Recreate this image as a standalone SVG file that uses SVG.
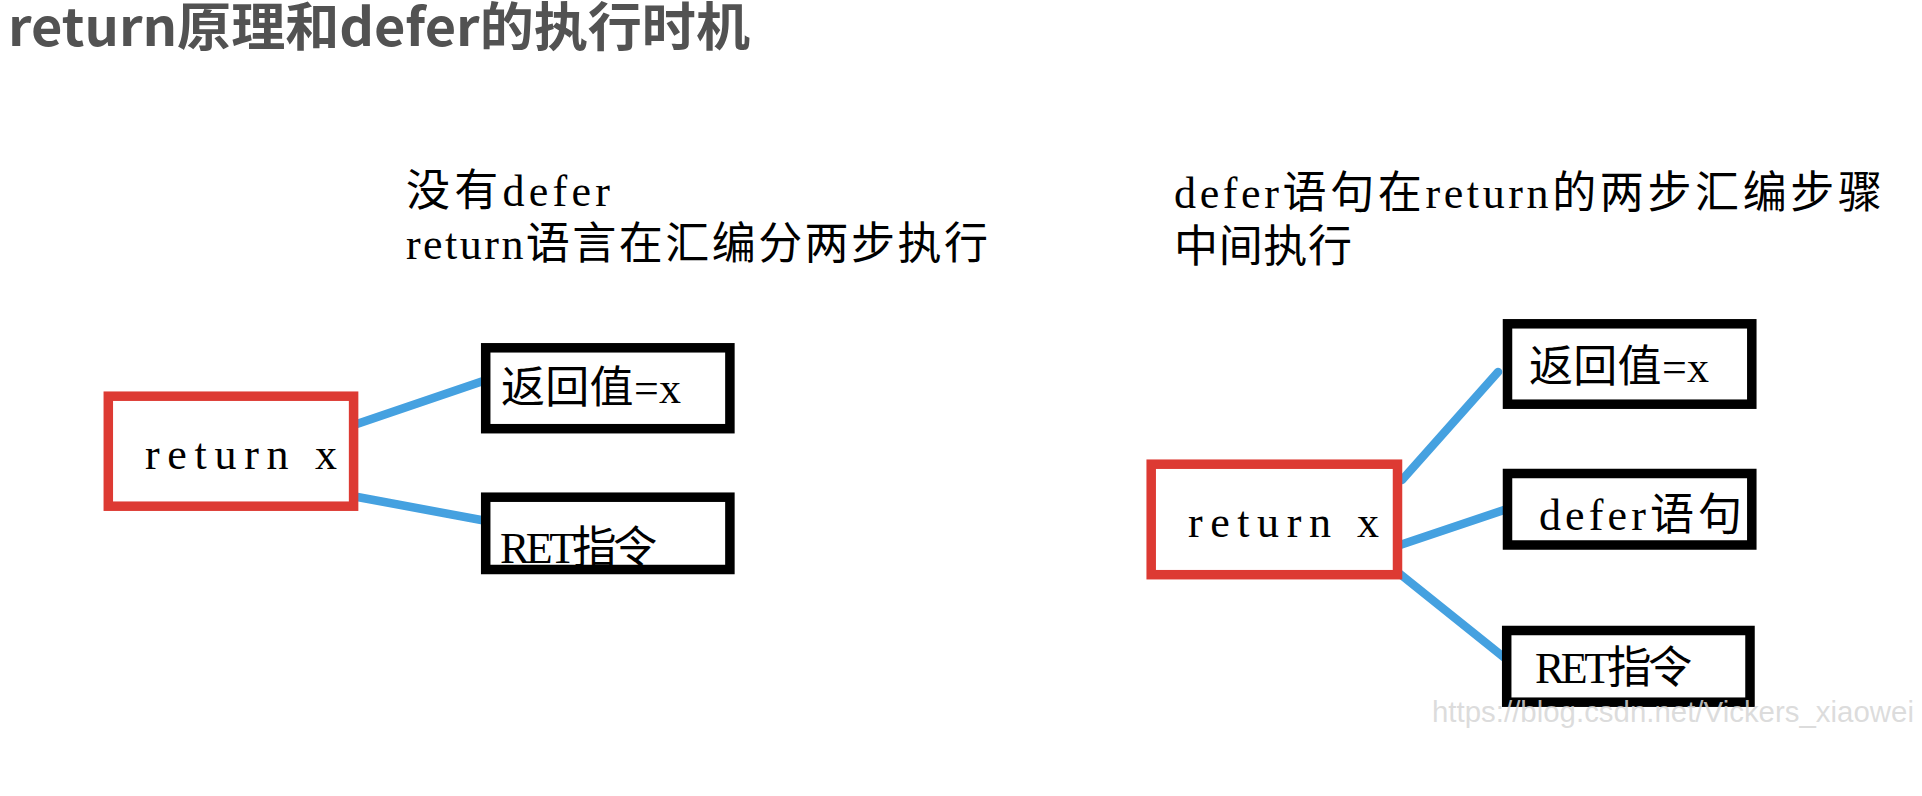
<svg xmlns="http://www.w3.org/2000/svg" width="1922" height="796" viewBox="0 0 1922 796">
  <style>
    .title { font-family: "Noto Sans CJK SC", "Liberation Sans", sans-serif; font-size: 52px; font-weight: bold; fill: #525252; }
    .cap { font-family: "Liberation Serif", "Noto Sans CJK SC", serif; font-size: 44px; fill: #000; }
    .lbl { font-family: "Liberation Serif", "Noto Sans CJK SC", serif; font-size: 44px; fill: #000; }
    .red { fill: #fff; stroke: #dd3a33; stroke-width: 9.5; }
    .blk { fill: #fff; stroke: #000; stroke-width: 9.5; }
    .conn { stroke: #45a1e0; stroke-width: 8.5; stroke-linecap: round; fill: none; }
    .wm { font-family: "Liberation Sans", Arial, sans-serif; font-size: 29.5px; fill: #d6d6d6; fill-opacity: 0.85; }
  </style>
  <rect x="0" y="0" width="1922" height="796" fill="#fff"/>

  <text class="title" x="8" y="46" textLength="742" lengthAdjust="spacingAndGlyphs">return原理和defer的执行时机</text>

  <g id="caption-left">
    <text class="cap" x="406" y="206" textLength="204" lengthAdjust="spacing">没有defer</text>
    <text class="cap" x="406" y="259" textLength="582" lengthAdjust="spacing">return语言在汇编分两步执行</text>
  </g>
  <g id="caption-right">
    <text class="cap" x="1174" y="208" textLength="708" lengthAdjust="spacing">defer语句在return的两步汇编步骤</text>
    <text class="cap" x="1174" y="262" textLength="178" lengthAdjust="spacing">中间执行</text>
  </g>

  <g id="connectors">
    <line class="conn" x1="348" y1="427" x2="495" y2="377"/>
    <line class="conn" x1="352" y1="496" x2="492" y2="522"/>
    <line class="conn" x1="1402" y1="480" x2="1498" y2="372"/>
    <line class="conn" x1="1397" y1="546" x2="1513" y2="507"/>
    <line class="conn" x1="1395" y1="570" x2="1506" y2="659"/>
  </g>

  <g id="left-return">
    <rect class="red" x="108.3" y="396.2" width="245.3" height="110"/>
    <text class="lbl" x="145" y="469" textLength="192" lengthAdjust="spacing">return x</text>
  </g>
  <g id="left-retval">
    <rect class="blk" x="485.7" y="347.8" width="244.2" height="80.9"/>
    <text class="lbl" x="501" y="403" textLength="180" lengthAdjust="spacing">返回值=x</text>
  </g>
  <g id="left-ret">
    <rect class="blk" x="485.7" y="497.2" width="244.2" height="72.3"/>
    <text class="lbl" x="500" y="563" textLength="157" lengthAdjust="spacing">RET指令</text>
  </g>

  <g id="right-return">
    <rect class="red" x="1151.2" y="464.2" width="246.3" height="110.5"/>
    <text class="lbl" x="1188" y="537" textLength="191" lengthAdjust="spacing">return x</text>
  </g>
  <g id="right-retval">
    <rect class="blk" x="1507.5" y="323.8" width="244.3" height="80.4"/>
    <text class="lbl" x="1529" y="382" textLength="180" lengthAdjust="spacing">返回值=x</text>
  </g>
  <g id="right-defer">
    <rect class="blk" x="1507.5" y="473.5" width="244.3" height="71.5"/>
    <text class="lbl" x="1539" y="530" textLength="203" lengthAdjust="spacing">defer语句</text>
  </g>
  <g id="right-ret">
    <rect class="blk" x="1506.7" y="630.5" width="243.3" height="71.7"/>
    <text class="lbl" x="1535" y="683" textLength="157" lengthAdjust="spacing">RET指令</text>
  </g>

  <text class="wm" x="1432" y="722" textLength="482" lengthAdjust="spacingAndGlyphs">https://blog.csdn.net/Vickers_xiaowei</text>
</svg>
